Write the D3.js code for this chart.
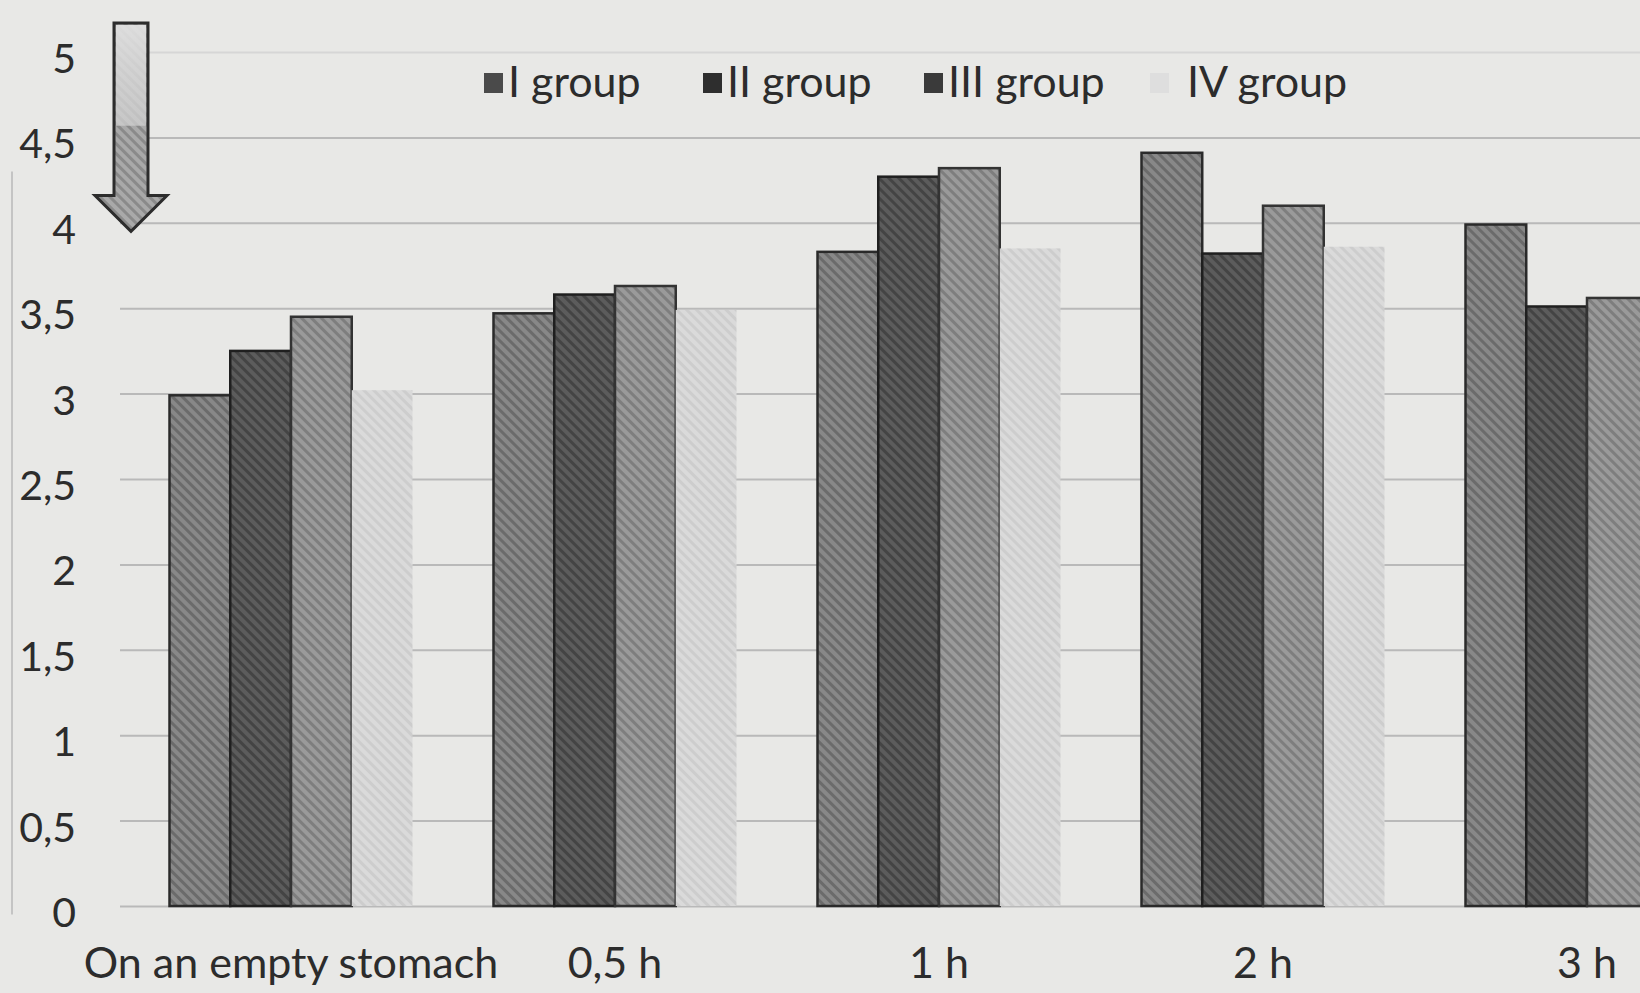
<!DOCTYPE html>
<html>
<head>
<meta charset="utf-8">
<script src="https://cdn.jsdelivr.net/npm/d3@7"></script>
<style>
  html, body { margin: 0; padding: 0; background: #e8e8e6; }
  svg { display: block; }
  text { font-family: Lato, "Open Sans", "Noto Sans", sans-serif; fill: #2c2c2c; }
</style>
</head>
<body>
<svg id="chart" width="1640" height="993"></svg>
<script>
// Time points after the load, and the four patient groups
const categories = ["On an empty stomach", "0,5 h", "1 h", "2 h", "3 h"];
const groups = ["I group", "II group", "III group", "IV group"];

// Mean values per group at each time point (3 h for group IV lies outside the frame)
const groupI   = [2.99, 3.47, 3.83, 4.41, 3.99];
const groupII  = [3.25, 3.58, 4.27, 3.82, 3.51];
const groupIII = [3.45, 3.63, 4.32, 4.10, 3.56];
const groupIV  = [3.02, 3.49, 3.85, 3.86, null];

// Value axis
const yTicks = [0, 0.5, 1, 1.5, 2, 2.5, 3, 3.5, 4, 4.5, 5];
const yTickLabels = ["0", "0,5", "1", "1,5", "2", "2,5", "3", "3,5", "4", "4,5", "5"];

const seriesValues = [groupI, groupII, groupIII, groupIV];

// Fill styles: base tone, hatch tone, outline, legend swatch
const fills   = ["#888888", "#5c5c5c", "#9a9a9a", "#dadada"];
const hatches = ["#6b6b6b", "#444444", "#7e7e7e", "#cdcdcd"];
const strokes = ["#2a2a2a", "#1f1f1f", "#333333", "none"];
const swatches = ["#4a4a4a", "#2e2e2e", "#3a3a3a", "#dedede"];

const svg = d3.select("#chart");
const W = 1640, H = 993;

const x0 = d3.scaleBand()
  .domain(categories)
  .range([129, 1749])
  .paddingInner(0.25)
  .paddingOuter(0.125);

const x1 = d3.scaleBand()
  .domain(groups)
  .range([0, x0.bandwidth()]);

const y = d3.scaleLinear().domain([0, 5]).range([906, 52]);

// Hatch patterns for the bars
const defs = svg.append("defs");
groups.forEach((g, i) => {
  const p = defs.append("pattern")
    .attr("id", "hatch" + i)
    .attr("patternUnits", "userSpaceOnUse")
    .attr("width", 7).attr("height", 7)
    .attr("patternTransform", "rotate(-45)");
  p.append("rect").attr("width", 7).attr("height", 7).attr("fill", fills[i]);
  p.append("rect").attr("x", 0).attr("width", 3).attr("height", 7).attr("fill", hatches[i]);
});
const arrowPat = defs.append("pattern")
  .attr("id", "hatchArrow")
  .attr("patternUnits", "userSpaceOnUse")
  .attr("width", 7).attr("height", 7)
  .attr("patternTransform", "rotate(-45)");
arrowPat.append("rect").attr("width", 7).attr("height", 7).attr("fill", "#a9a9a9");
arrowPat.append("rect").attr("width", 3).attr("height", 7).attr("fill", "#8a8a8a");

const shaftGrad = defs.append("linearGradient").attr("id", "shaftTop")
  .attr("x1", 0).attr("x2", 0).attr("y1", 0).attr("y2", 1);
shaftGrad.append("stop").attr("offset", 0).attr("stop-color", "#e4e4e4").attr("stop-opacity", 0.9);
shaftGrad.append("stop").attr("offset", 1).attr("stop-color", "#d0d0d0").attr("stop-opacity", 0.75);

// Chart area left edge
svg.append("line")
  .attr("x1", 12).attr("x2", 12)
  .attr("y1", y(4.3)).attr("y2", y(-0.05))
  .attr("stroke", "#c4c4c4").attr("stroke-width", 2);

// Horizontal gridlines and value labels
const yAxis = d3.axisLeft(y)
  .tickValues(yTicks)
  .tickFormat((d, i) => yTickLabels[i])
  .tickSize(-(W - 120))
  .tickPadding(44);

const gy = svg.append("g")
  .attr("transform", "translate(120,0)")
  .call(yAxis);
gy.select(".domain").remove();
gy.selectAll(".tick line")
  .attr("stroke", d => d === 5 ? "#d6d6d6" : "#b9b9b9")
  .attr("stroke-width", 2);
gy.selectAll(".tick text")
  .attr("font-size", 41)
  .attr("dy", "0.5em")
  .style("fill", "#2c2c2c")
  .style("font-family", "Lato, 'Open Sans', sans-serif");

// Bars
const gGroups = svg.append("g").selectAll("g")
  .data(categories)
  .join("g")
  .attr("transform", d => `translate(${x0(d)},0)`);

gGroups.selectAll("rect")
  .data((c, ci) => groups.map((g, gi) => ({ g, gi, v: seriesValues[gi][ci] })).filter(d => d.v !== null))
  .join("rect")
  .attr("x", d => x1(d.g))
  .attr("width", x1.bandwidth())
  .attr("y", d => y(d.v))
  .attr("height", d => y(0) - y(d.v))
  .attr("fill", d => `url(#hatch${d.gi})`)
  .attr("stroke", d => strokes[d.gi])
  .attr("stroke-width", 2.5);

// Category labels
svg.append("g").selectAll("text")
  .data(categories)
  .join("text")
  .attr("x", d => x0(d) + x0.bandwidth() / 2)
  .attr("y", 978)
  .attr("text-anchor", "middle")
  .attr("font-size", 43)
  .text(d => d);

// Legend
const legendX = [484, 703, 924, 1150];
const legend = svg.append("g").selectAll("g")
  .data(groups)
  .join("g")
  .attr("transform", (d, i) => `translate(${legendX[i]},84)`);
legend.append("rect")
  .attr("x", 0).attr("y", -11)
  .attr("width", 19).attr("height", 20)
  .attr("fill", (d, i) => swatches[i]);
legend.append("text")
  .attr("x", (d, i) => i === 3 ? 37 : 24)
  .attr("y", 13)
  .attr("font-size", 43)
  .text(d => d);

// Downward block arrow beside the value axis
const ax = 131, shaftHalf = 17, headHalf = 36;
const yTop = y(5.17), yHead = y(4.16), yTip = y(3.95);
const arrowPath = d3.path();
arrowPath.moveTo(ax - shaftHalf, yTop);
arrowPath.lineTo(ax + shaftHalf, yTop);
arrowPath.lineTo(ax + shaftHalf, yHead);
arrowPath.lineTo(ax + headHalf, yHead);
arrowPath.lineTo(ax, yTip);
arrowPath.lineTo(ax - headHalf, yHead);
arrowPath.lineTo(ax - shaftHalf, yHead);
arrowPath.closePath();
svg.append("path")
  .attr("d", arrowPath.toString())
  .attr("fill", "url(#hatchArrow)")
  .attr("stroke", "#2c2c2c")
  .attr("stroke-width", 3)
  .attr("stroke-linejoin", "miter");
svg.append("rect")
  .attr("x", ax - shaftHalf + 2).attr("y", yTop + 2)
  .attr("width", shaftHalf * 2 - 4).attr("height", y(4.58) - yTop)
  .attr("fill", "url(#shaftTop)");
</script>
</body>
</html>
